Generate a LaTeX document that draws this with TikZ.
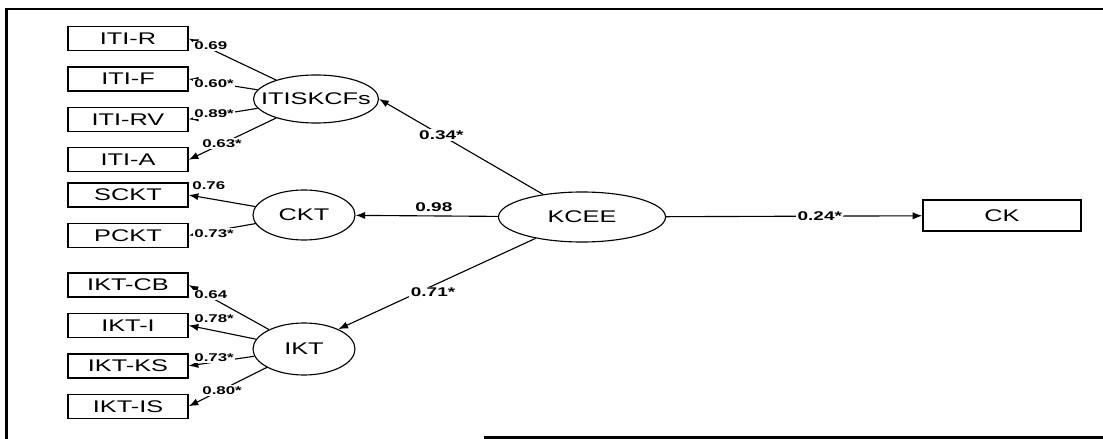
\documentclass[tikz,border=0pt]{standalone}
\usepackage{fontspec}
\newfontfamily\wide[FakeStretch=1.5]{Liberation Sans}
\usetikzlibrary{arrows.meta,positioning,shapes.geometric,calc}
\tikzset{
  obs/.style={draw,line width=1pt,minimum width=3cm,minimum height=0.6cm,inner sep=0pt,font=\wide\fontsize{12}{13}\selectfont},
  lat/.style={draw,ellipse,line width=0.8pt,inner sep=0pt,font=\wide\fontsize{12}{13}\selectfont},
  path/.style={-{Latex[length=2.4mm,width=1.8mm]},line width=0.8pt},
  coef/.style={fill=white,inner sep=1pt,font=\wide\bfseries\fontsize{9}{10}\selectfont},
  load/.style={coef,anchor=west,font=\wide\bfseries\fontsize{8}{9}\selectfont},
  frame/.style={line width=1.6pt},
}
\begin{document}
\begin{tikzpicture}[x=0.025cm,y=-0.025cm,node distance=0.375cm]
  \useasboundingbox (0,0) rectangle (1103,439);
  % page frame
  \draw[frame] (6.5,439) -- (6.5,9) -- (1103,9);
  \draw[frame] (484,437.5) -- (1103,437.5);
  % indicators
  \node[obs] (itir) at (128,38.5) {ITI-R};
  \node[obs,below=of itir] (itif) {ITI-F};
  \node[obs,below=of itif] (itirv) {ITI-RV};
  \node[obs,below=of itirv] (itia) {ITI-A};
  \node[obs] (sckt) at (128,195) {SCKT};
  \node[obs,below=of sckt] (pckt) {PCKT};
  \node[obs] (iktcb) at (128,285) {IKT-CB};
  \node[obs,below=of iktcb] (ikti) {IKT-I};
  \node[obs,below=of ikti] (iktks) {IKT-KS};
  \node[obs,below=of iktks] (iktis) {IKT-IS};
  % latent variables
  \node[lat,minimum width=3.125cm,minimum height=1.2cm] (itis) at (316,99) {\makebox[0pt]{ITISKCFs}};
  \node[lat,minimum width=2.55cm,minimum height=1.25cm] (ckt) at (304,215) {CKT};
  \node[lat,minimum width=2.55cm,minimum height=1.3cm] (ikt) at (304,349) {IKT};
  \node[lat,minimum width=4.175cm,minimum height=1.25cm] (kcee) at (582,217) {KCEE};
  \node[obs,minimum width=3.95cm,minimum height=0.775cm] (ck) at (1002,215.5) {CK};
  % loadings
  \foreach \f/\o/\v/\dx/\dy in {itis/itir/0.69/4/7.5,itis/itif/0.60*/4/5,itis/itirv/0.89*/4/-6,itis/itia/0.63*/12/-16,
      ckt/sckt/0.76/2/-9,ckt/pckt/0.73*/4/-2,
      ikt/iktcb/0.64/4/10,ikt/ikti/0.78*/4/-7,ikt/iktks/0.73*/4/-8,ikt/iktis/0.80*/12/-16}{
    \draw[path] (\f) -- (\o.east);
    \node[load] (l-\o) at ($(\o.east)+(\dx,\dy)$) {\v};
  }
  % structural paths
  \draw[path] (kcee) -- node[coef,pos=0.62] (c-itis) {0.34*} (itis.east);
  \draw[path] (kcee) -- node[coef,above=2pt,pos=0.45] (c-ckt) {0.98} (ckt);
  \draw[path] (kcee) -- node[coef,pos=0.52,yshift=-5pt] (c-ikt) {0.71*} (ikt.30);
  \draw[path] (kcee) -- node[coef,pos=0.6] (c-ck) {0.24*} (ck);
\end{tikzpicture}
\end{document}
